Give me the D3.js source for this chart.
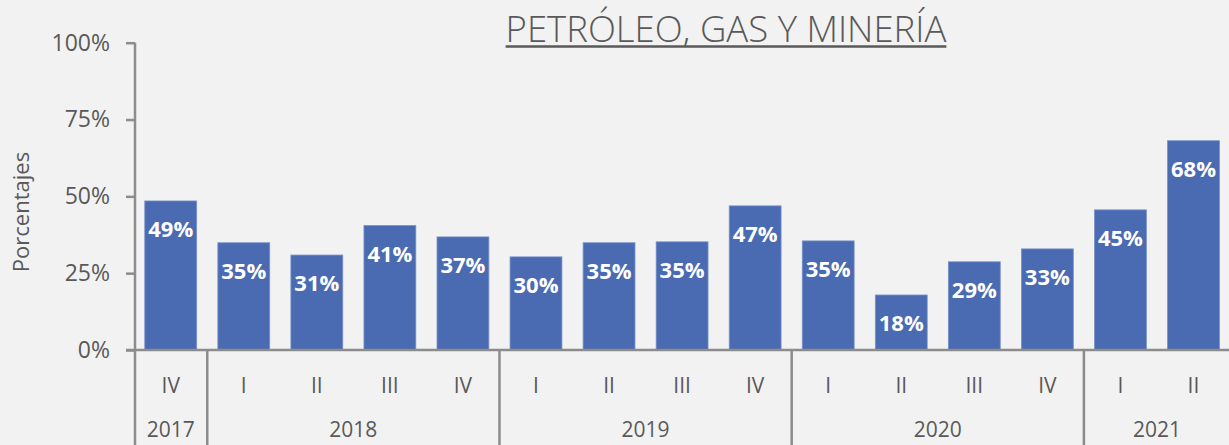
<!DOCTYPE html>
<html>
<head>
<meta charset="utf-8">
<script src="https://cdn.jsdelivr.net/npm/d3@7"></script>
<style>
  html, body { margin: 0; padding: 0; background: #f2f2f2; }
  svg { display: block; font-family: "Open Sans", sans-serif; }
</style>
</head>
<body>
<svg width="1229" height="445"></svg>
<script>
// datos
const quarters = ['IV', 'I', 'II', 'III', 'IV', 'I', 'II', 'III', 'IV', 'I', 'II', 'III', 'IV', 'I', 'II'];
const years = ['2017', '2018', '2018', '2018', '2018', '2019', '2019', '2019', '2019', '2020', '2020', '2020', '2020', '2021', '2021'];
const values = [0.485, 0.349, 0.309, 0.405, 0.368, 0.303, 0.349, 0.352, 0.469, 0.355, 0.179, 0.287, 0.329, 0.456, 0.681];
const labels = ['49%', '35%', '31%', '41%', '37%', '30%', '35%', '35%', '47%', '35%', '18%', '29%', '33%', '45%', '68%'];
const yTicks = [0, 0.25, 0.5, 0.75, 1];

const svg = d3.select('svg');
const width = +svg.attr('width');
const height = +svg.attr('height');

const grey = '#595959';
const axisGrey = '#8c8c8c';

const data = values.map((v, i) => ({ key: i, q: quarters[i], year: years[i], value: v, label: labels[i] }));

const xScale = d3.scaleBand()
  .domain(data.map(d => d.key))
  .range([134.2, 1230])
  .paddingInner(0.29)
  .paddingOuter(0.145);

const yScale = d3.scaleLinear()
  .domain([0, 1])
  .range([350, 42.7]);

// title
const title = svg.append('text')
  .attr('x', 726)
  .attr('y', 42)
  .attr('text-anchor', 'middle')
  .attr('fill', grey)
  .style('font-size', '36.5px')
  .style('font-weight', 300)
  .text('PETRÓLEO, GAS Y MINERÍA');
const tw = title.node().getComputedTextLength();
svg.append('line')
  .attr('x1', 726 - tw / 2).attr('x2', 726 + tw / 2)
  .attr('y1', 46.5).attr('y2', 46.5)
  .attr('stroke', grey).attr('stroke-width', 2.5);

// y label
svg.append('text')
  .attr('transform', 'translate(29,212) rotate(-90)')
  .attr('text-anchor', 'middle')
  .attr('fill', grey)
  .style('font-size', '22px')
  .text('Porcentajes');

// bars
svg.append('g').selectAll('rect').data(data)
  .enter().append('rect')
  .attr('x', d => xScale(d.key))
  .attr('y', d => yScale(d.value))
  .attr('width', xScale.bandwidth())
  .attr('height', d => yScale(0) - yScale(d.value))
  .attr('fill', '#4a6ab2')
  .attr('stroke', '#7891c9')
  .attr('stroke-width', 0.8);

// value labels
svg.append('g').selectAll('text').data(data)
  .enter().append('text')
  .attr('x', d => xScale(d.key) + xScale.bandwidth() / 2)
  .attr('y', d => yScale(d.value) + 36)
  .attr('text-anchor', 'middle')
  .attr('fill', '#ffffff')
  .style('font-size', '22px')
  .style('font-weight', 700)
  .text(d => d.label);

// y axis
const yAxis = d3.axisLeft(yScale)
  .tickValues(yTicks)
  .tickFormat(d3.format('.0%'))
  .tickSize(9)
  .tickPadding(16);
const gy = svg.append('g')
  .attr('transform', 'translate(135,0)')
  .call(yAxis);
gy.select('.domain').remove();
gy.selectAll('line').attr('stroke', axisGrey).attr('stroke-width', 2.5);
gy.selectAll('text').attr('fill', grey).style('font-size', '23px').style('font-family', '"Open Sans", sans-serif');

// axis lines
svg.append('line')
  .attr('x1', 135).attr('x2', 135)
  .attr('y1', yScale(1)).attr('y2', height)
  .attr('stroke', axisGrey).attr('stroke-width', 2.5);
svg.append('line')
  .attr('x1', 126).attr('x2', width)
  .attr('y1', yScale(0)).attr('y2', yScale(0))
  .attr('stroke', axisGrey).attr('stroke-width', 2.5);

// quarter labels
svg.append('g').selectAll('text').data(data)
  .enter().append('text')
  .attr('x', d => xScale(d.key) + xScale.bandwidth() / 2)
  .attr('y', 393)
  .attr('text-anchor', 'middle')
  .attr('fill', grey)
  .style('font-size', '21px')
  .text(d => d.q);

// year groups
const groups = d3.groups(data, d => d.year).map(([year, ds]) => {
  const first = ds[0].key, last = ds[ds.length - 1].key;
  const step = xScale.step();
  const x0 = xScale(first) - xScale.paddingInner() * step / 2;
  const x1 = xScale(last) + xScale.bandwidth() + xScale.paddingInner() * step / 2;
  return { year, x0, x1 };
});

svg.append('g').selectAll('line').data(groups.slice(1))
  .enter().append('line')
  .attr('x1', d => d.x0).attr('x2', d => d.x0)
  .attr('y1', yScale(0)).attr('y2', height)
  .attr('stroke', axisGrey).attr('stroke-width', 2.5);

svg.append('g').selectAll('text').data(groups)
  .enter().append('text')
  .attr('x', d => (d.x0 + d.x1) / 2)
  .attr('y', 437)
  .attr('text-anchor', 'middle')
  .attr('fill', grey)
  .style('font-size', '21px')
  .text(d => d.year);
</script>
</body>
</html>
